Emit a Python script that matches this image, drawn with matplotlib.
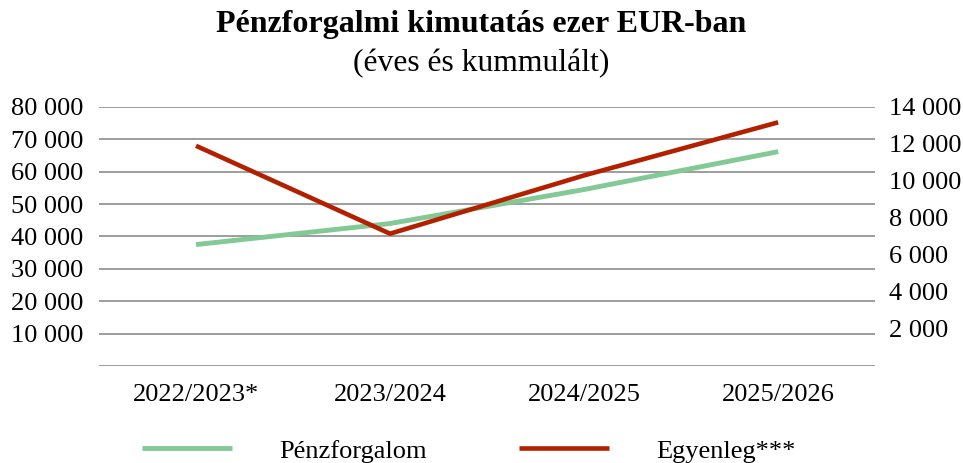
import numpy as np
import matplotlib
matplotlib.use("Agg")
import matplotlib.pyplot as plt
from matplotlib.ticker import FuncFormatter

plt.rcParams['font.family'] = ['Liberation Serif', 'DejaVu Serif']

years = ["2022/2023*", "2023/2024", "2024/2025", "2025/2026"]
penzforgalom = [37500, 44000, 54500, 66200]   # left axis
egyenleg = [11900, 7150, 10300, 13170]        # right axis

GREEN = '#82c995'
RED = '#b32000'
GRID = '#8c8c8c'


def space_thousands(v, pos):
    if v == 0:
        return ""
    return "{:,.0f}".format(v).replace(",", " ")


fig = plt.figure(figsize=(9.63, 4.63), dpi=100)
ax = fig.add_axes([0.1028, 0.2095, 0.806, 0.5595])
ax2 = ax.twinx()

ind = np.arange(len(years))
ax.plot(ind, penzforgalom, color=GREEN, lw=3.5, solid_capstyle='butt', label='Pénzforgalom')
ax2.plot(ind, egyenleg, color=RED, lw=3.3, solid_capstyle='butt', label='Egyenleg***')

ax.set_xlim(-0.5, len(years) - 0.5)
ax.set_ylim(0, 80000)
ax2.set_ylim(0, 14000)
ax.set_yticks(np.arange(0, 80001, 10000))
ax2.set_yticks(np.arange(0, 14001, 2000))
ax.yaxis.set_major_formatter(FuncFormatter(space_thousands))
ax2.yaxis.set_major_formatter(FuncFormatter(space_thousands))
ax.set_xticks(ind)
ax.set_xticklabels(years)

ax.grid(axis='y', color=GRID, lw=1.2)
ax.set_axisbelow(True)
for a in (ax, ax2):
    for s in a.spines.values():
        s.set_visible(False)
    a.tick_params(length=0, labelsize=19)
ax.tick_params(axis='y', pad=11)
ax2.tick_params(axis='y', pad=10)
ax.tick_params(axis='x', pad=13)

fig.text(0.5, 0.947, "Pénzforgalmi kimutatás ezer EUR-ban", ha='center', va='center',
         fontsize=23, fontweight='bold')
fig.text(0.5, 0.862, "(éves és kummulált)", ha='center', va='center', fontsize=22.8)

h1, l1 = ax.get_legend_handles_labels()
h2, l2 = ax2.get_legend_handles_labels()
fig.legend(h1 + h2, l1 + l2, loc='center', bbox_to_anchor=(0.487, 0.026), ncol=2,
           frameon=False, fontsize=19, handlelength=3.4, handletextpad=1.8,
           columnspacing=3.5)

fig.savefig("out.png", dpi=100)
